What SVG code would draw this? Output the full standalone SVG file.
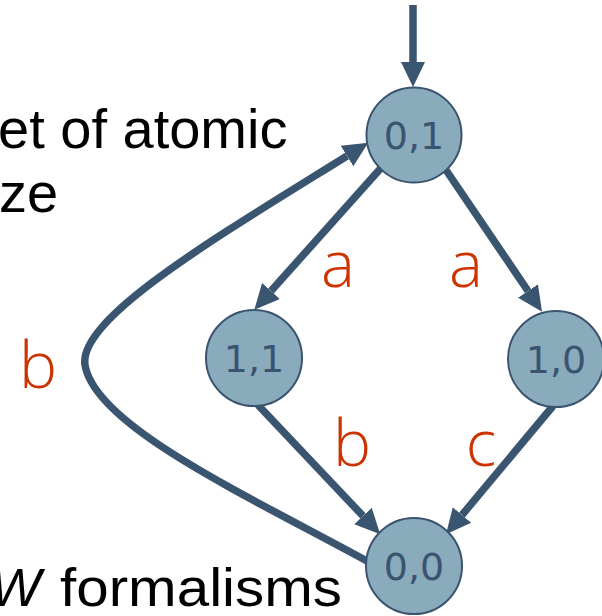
<svg xmlns="http://www.w3.org/2000/svg" width="602" height="616" viewBox="0 0 602 616">
<style>
.node circle{fill:#8aabbc;stroke:#3a5470;stroke-width:2}
.node text{font-family:"DejaVu Sans",sans-serif;font-size:38px;fill:#3a5470;text-anchor:middle}
.edge{fill:none;stroke:#3a5570;stroke-width:7.5}
.lbl{font-family:"Open Sans",sans-serif;font-size:64px;font-weight:300;fill:#cc3300;text-anchor:middle}
.txt{font-family:"Liberation Sans",Arial,sans-serif;fill:#000}
</style>
<defs>
<marker id="ah" markerUnits="userSpaceOnUse" markerWidth="26" markerHeight="26" refX="0" refY="12" orient="auto" viewBox="0 0 26 24">
<path d="M0,0 L25,12 L0,24 z" fill="#3a5570"/>
</marker>
</defs>
<g id="text">
<text class="txt" x="-2" y="148" font-size="56">et of atomic</text>
<text class="txt" x="-1" y="212" font-size="56">ze</text>
<text class="txt" x="-10" y="606" font-size="54" font-style="italic" fill="#0000ff">W</text>
<text class="txt" x="60" y="606" font-size="54" textLength="282" lengthAdjust="spacingAndGlyphs">formalisms</text>
</g>
<g id="connectors">
<line class="edge" x1="413" y1="5" x2="413" y2="62" marker-end="url(#ah)"/>
<line class="edge" x1="381" y1="168" x2="271" y2="291" marker-end="url(#ah)"/>
<line class="edge" x1="446" y1="170" x2="528" y2="291" marker-end="url(#ah)"/>
<line class="edge" x1="258" y1="405" x2="363" y2="516" marker-end="url(#ah)"/>
<line class="edge" x1="553" y1="406" x2="462" y2="515" marker-end="url(#ah)"/>
<path class="edge" d="M 367 561 C 240 492, 95 425, 85 365 C 78 318, 220 235, 347 156" marker-end="url(#ah)"/>
</g>
<g id="labels">
<text class="lbl" x="338" y="287">a</text>
<text class="lbl" x="466" y="287">a</text>
<text class="lbl" x="38" y="388">b</text>
<text class="lbl" x="352" y="466">b</text>
<text class="lbl" x="481" y="466">c</text>
</g>
<g id="n01" class="node"><circle cx="414" cy="135" r="47.5"/><text x="414" y="149">0,1</text></g>
<g id="n11" class="node"><circle cx="254" cy="358" r="48"/><text x="254" y="372">1,1</text></g>
<g id="n10" class="node"><circle cx="556" cy="359" r="48"/><text x="556" y="373">1,0</text></g>
<g id="n00" class="node"><circle cx="414" cy="566" r="48"/><text x="414" y="580">0,0</text></g>
</svg>
